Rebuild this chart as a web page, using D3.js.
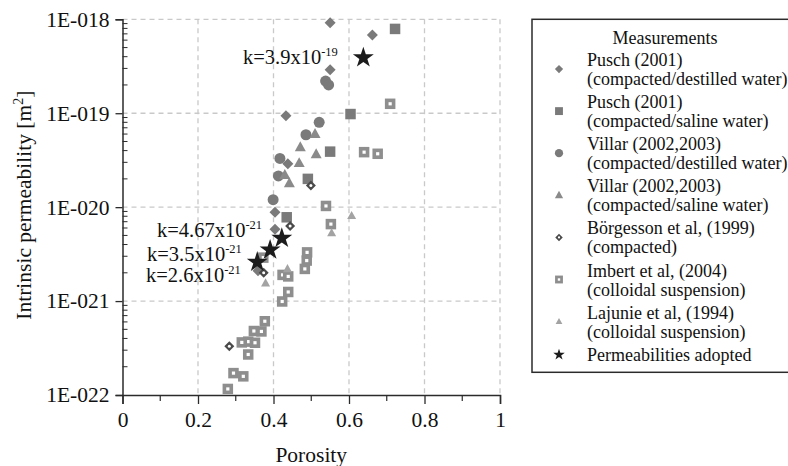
<!DOCTYPE html>
<html>
<head>
<meta charset="utf-8">
<script src="https://cdn.jsdelivr.net/npm/d3@7"></script>
<style>
  html, body { margin: 0; padding: 0; background: #fff; }
  svg { display: block; font-family: "Liberation Serif", "Times New Roman", serif; }
</style>
</head>
<body>
<svg id="chart" width="788" height="466"></svg>
<script>
// ---- Data: porosity (-) and intrinsic permeability (m^2) per data set ----
const puschDistPorosity = [0.550, 0.662, 0.550, 0.433, 0.438, 0.404, 0.404, 0.359];
const puschDistK        = [9.2e-19, 6.8e-19, 2.9e-19, 9.4e-20, 2.9e-20, 8.8e-21, 5.8e-21, 2.1e-21];

const puschSalinePorosity = [0.722, 0.604, 0.550, 0.491, 0.435];
const puschSalineK        = [7.9e-19, 9.8e-20, 3.9e-20, 2.0e-20, 7.8e-21];

const villarDistPorosity = [0.538, 0.546, 0.521, 0.486, 0.417, 0.413, 0.399];
const villarDistK        = [2.2e-19, 2.0e-19, 8.0e-20, 5.9e-20, 3.3e-20, 2.15e-20, 1.2e-20];

const villarSalinePorosity = [0.510, 0.471, 0.513, 0.468, 0.430, 0.442];
const villarSalineK        = [6.0e-20, 4.35e-20, 3.66e-20, 2.94e-20, 2.2e-20, 1.8e-20];

const borgessonPorosity = [0.499, 0.444, 0.374, 0.283];
const borgessonK        = [1.7e-20, 6.3e-21, 2.0e-21, 3.3e-22];

const imbertPorosity = [0.709, 0.640, 0.676, 0.539, 0.552, 0.489, 0.488, 0.483, 0.424, 0.439,
                        0.439, 0.423, 0.377, 0.368, 0.348, 0.333, 0.351, 0.316, 0.333, 0.294,
                        0.320, 0.279, 0.373];
const imbertK        = [1.26e-19, 3.85e-20, 3.7e-20, 1.03e-20, 6.6e-21, 3.3e-21, 2.7e-21, 2.2e-21, 1.9e-21, 1.83e-21,
                        1.25e-21, 9.9e-22, 6.1e-22, 4.75e-22, 4.8e-22, 3.7e-22, 3.6e-22, 3.63e-22, 2.7e-22, 1.71e-22,
                        1.58e-22, 1.16e-22, 2.9e-21];

const lajuniePorosity = [0.607, 0.554, 0.437, 0.379];
const lajunieK        = [8.1e-21, 5.3e-21, 2.2e-21, 1.55e-21];

// Adopted permeabilities: k = mantissa x 10^exponent
const adoptedPorosity = [0.638, 0.422, 0.391, 0.357];
const adoptedMantissa = ["3.9", "4.67", "3.5", "2.6"];
const adoptedExponent = [-19, -21, -21, -21];

const seriesNames = [
  ["Pusch (2001)", "(compacted/destilled water)"],
  ["Pusch (2001)", "(compacted/saline water)"],
  ["Villar (2002,2003)", "(compacted/destilled water)"],
  ["Villar (2002,2003)", "(compacted/saline water)"],
  ["Börgesson et al, (1999)", "(compacted)"],
  ["Imbert et al, (2004)", "(colloidal suspension)"],
  ["Lajunie et al, (1994)", "(colloidal suspension)"],
  ["Permeabilities adopted"]
];

const xTickValues = [0, 0.2, 0.4, 0.6, 0.8, 1];
const xMinorValues = [0.1, 0.3, 0.5, 0.7, 0.9];
const yTickValues = [1e-22, 1e-21, 1e-20, 1e-19, 1e-18];
const yTickLabels = ["1E-022", "1E-021", "1E-020", "1E-019", "1E-018"];

// ---- Layout ----
const svg = d3.select("#chart");
const plot = { left: 122.5, right: 500, top: 19.3, bottom: 395 };

const x = d3.scaleLinear().domain([0, 1]).range([plot.left, plot.right]);
const y = d3.scaleLog().domain([1e-22, 1e-18]).range([plot.bottom, plot.top]);

const axisColor = "#2b2b2b";
const gridColor = "#c9c9c9";

// ---- Grid ----
const grid = svg.append("g");
grid.selectAll("line.gy")
  .data(yTickValues.slice(1))
  .join("line")
  .attr("x1", plot.left).attr("x2", plot.right)
  .attr("y1", d => y(d)).attr("y2", d => y(d))
  .attr("stroke", gridColor).attr("stroke-width", 1.3)
  .attr("stroke-dasharray", "5,4");
grid.selectAll("line.gx")
  .data(xTickValues.slice(1))
  .join("line")
  .attr("y1", plot.top).attr("y2", plot.bottom)
  .attr("x1", d => x(d)).attr("x2", d => x(d))
  .attr("stroke", gridColor).attr("stroke-width", 1.3)
  .attr("stroke-dasharray", "5,4");

// ---- Axes ----
const xAxis = d3.axisBottom(x)
  .tickValues(xTickValues)
  .tickFormat(d => d3.format("~g")(d))
  .tickSize(9).tickPadding(8);
const gx = svg.append("g")
  .attr("transform", `translate(0,${plot.bottom})`)
  .call(xAxis);
gx.select(".domain").attr("stroke", axisColor).attr("stroke-width", 1.5);
gx.selectAll(".tick line").attr("stroke", axisColor).attr("stroke-width", 1.3);
gx.selectAll(".tick text").attr("font-family", "Liberation Serif").attr("font-size", 21.5).attr("fill", "#111");
gx.selectAll("line.minor")
  .data(xMinorValues)
  .join("line")
  .attr("class", "minor")
  .attr("x1", d => x(d)).attr("x2", d => x(d))
  .attr("y1", 0).attr("y2", 6)
  .attr("stroke", axisColor).attr("stroke-width", 1.2);

const yAxis = d3.axisLeft(y)
  .tickValues(yTickValues)
  .tickFormat((d, i) => yTickLabels[i])
  .tickSize(7).tickPadding(6);
const gy = svg.append("g")
  .attr("transform", `translate(${plot.left},0)`)
  .call(yAxis);
gy.select(".domain").attr("stroke", axisColor).attr("stroke-width", 1.5);
gy.selectAll(".tick line").attr("stroke", axisColor).attr("stroke-width", 1.3);
gy.selectAll(".tick text").attr("font-family", "Liberation Serif").attr("font-size", 21.5).attr("fill", "#111");

// log minor ticks (2..9 per decade) drawn on the inner side
const yMinor = [];
yTickValues.slice(0, -1).forEach(d => { for (let m = 2; m <= 9; m++) yMinor.push(d * m); });
gy.selectAll("line.minor")
  .data(yMinor)
  .join("line")
  .attr("class", "minor")
  .attr("x1", 0).attr("x2", 5)
  .attr("y1", d => y(d)).attr("y2", d => y(d))
  .attr("stroke", axisColor).attr("stroke-width", 1);

// Axis titles
svg.append("text")
  .attr("x", (plot.left + plot.right) / 2).attr("y", 462)
  .attr("text-anchor", "middle").attr("font-size", 21.5).attr("fill", "#111")
  .text("Porosity");

const yTitle = svg.append("text")
  .attr("transform", `translate(31,${(plot.top + plot.bottom) / 2 - 2}) rotate(-90)`)
  .attr("text-anchor", "middle").attr("font-size", 21.5).attr("fill", "#111");
yTitle.append("tspan").text("Intrinsic permeability [m");
yTitle.append("tspan").attr("font-size", 14).attr("dy", -8).text("2");
yTitle.append("tspan").attr("dy", 8).text("]");

// ---- Marker shapes ----
const rhombus = {
  draw(ctx, size) {
    const r = Math.sqrt(size) / 2;
    ctx.moveTo(0, -r); ctx.lineTo(r, 0); ctx.lineTo(0, r); ctx.lineTo(-r, 0); ctx.closePath();
  }
};
const square = {
  draw(ctx, size) {
    const h = Math.sqrt(size) / 2;
    ctx.rect(-h, -h, 2 * h, 2 * h);
  }
};
const tri = {
  draw(ctx, size) {
    const w = Math.sqrt(size);
    const h = w * 0.9;
    ctx.moveTo(0, -h * 0.6); ctx.lineTo(w / 2, h * 0.4); ctx.lineTo(-w / 2, h * 0.4); ctx.closePath();
  }
};
const disc = {
  draw(ctx, size) {
    const r = Math.sqrt(size) / 2;
    ctx.moveTo(r, 0); ctx.arc(0, 0, r, 0, 2 * Math.PI);
  }
};

// style per series: shape, outer size (px across), colour, inner white dot size (px, 0 = none)
const styles = [
  { shape: rhombus, size: 11, color: "#7a7a7a", dot: 0 },
  { shape: square,  size: 10.5, color: "#7a7a7a", dot: 0 },
  { shape: disc,    size: 11, color: "#7a7a7a", dot: 0 },
  { shape: tri,     size: 11, color: "#8a8a8a", dot: 0 },
  { shape: rhombus, size: 10, color: "#4a4a4a", dot: 3 },
  { shape: square,  size: 10.5, color: "#8e8e8e", dot: 3.2, dotShape: square },
  { shape: tri,     size: 9,  color: "#a3a3a3", dot: 0 },
  { shape: d3.symbolStar, star: true, color: "#1c1c1c" }
];

const seriesData = [
  d3.zip(puschDistPorosity, puschDistK),
  d3.zip(puschSalinePorosity, puschSalineK),
  d3.zip(villarDistPorosity, villarDistK),
  d3.zip(villarSalinePorosity, villarSalineK),
  d3.zip(borgessonPorosity, borgessonK),
  d3.zip(imbertPorosity, imbertK),
  d3.zip(lajuniePorosity, lajunieK),
  d3.zip(adoptedPorosity, adoptedMantissa.map((m, i) => +m * Math.pow(10, adoptedExponent[i])))
];

function drawMarker(g, st, scale, starScale) {
  if (st.star) {
    const R = 11 * (starScale || scale);
    g.append("path")
      .attr("d", d3.symbol(d3.symbolStar, R * R / 0.8908130915292852)())
      .attr("fill", st.color);
    return;
  }
  const s = st.size * scale;
  g.append("path").attr("d", d3.symbol(st.shape, s * s)()).attr("fill", st.color);
  if (st.dot) {
    const ds = st.dot * scale;
    g.append("path").attr("d", d3.symbol(st.dotShape || disc, ds * ds)()).attr("fill", "#fff");
  }
}

const marks = svg.append("g");
seriesData.forEach((pts, si) => {
  marks.append("g")
    .selectAll("g")
    .data(pts)
    .join("g")
    .attr("transform", d => `translate(${x(d[0])},${y(d[1])})`)
    .each(function () { drawMarker(d3.select(this), styles[si], 1); });
});

// ---- Labels for the adopted permeabilities ----
const labelPos = [[243, 64], [157, 237], [147, 261], [146, 282]];
adoptedMantissa.forEach((m, i) => {
  const t = svg.append("text")
    .attr("x", labelPos[i][0]).attr("y", labelPos[i][1])
    .attr("font-size", 20.5).attr("fill", "#111");
  t.append("tspan").text(`k=${m}x10`);
  t.append("tspan").attr("font-size", 12.5).attr("dy", -8).text(String(adoptedExponent[i]));
});

// ---- Legend ----
const lg = svg.append("g");
lg.append("rect")
  .attr("x", 532).attr("y", plot.top).attr("width", 300).attr("height", 353)
  .attr("fill", "#fff").attr("stroke", axisColor).attr("stroke-width", 1.5);
lg.append("text")
  .attr("x", 665).attr("y", 43.5).attr("text-anchor", "middle")
  .attr("font-size", 18).attr("fill", "#111")
  .text("Measurements");

seriesNames.forEach((lines, i) => {
  const top = 66 + i * 42.1;
  const row = lg.append("g");
  lines.forEach((ln, j) => {
    row.append("text")
      .attr("x", 587).attr("y", top + j * 19)
      .attr("font-size", 18).attr("fill", "#111")
      .text(ln);
  });
  const my = lines.length > 1 ? top + 3 : top - 6;
  const mg = row.append("g").attr("transform", `translate(559,${my})`);
  drawMarker(mg, styles[i], 0.75, 0.55);
});
</script>
</body>
</html>
